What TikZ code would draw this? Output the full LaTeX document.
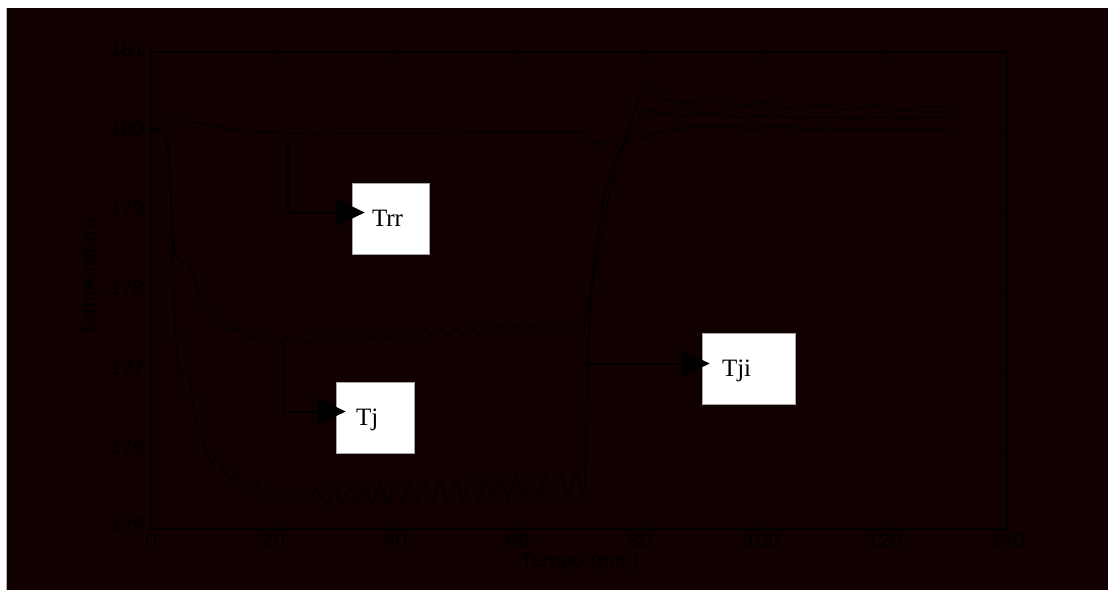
\documentclass[tikz,border=0pt]{standalone}
\usepackage{fontspec}
\setmainfont{Liberation Serif}
\newfontfamily\axfont{Liberation Sans}
\usetikzlibrary{arrows.meta}
\definecolor{bgdark}{RGB}{17,0,0}
\begin{document}
\begin{tikzpicture}[x=1pt,y=-1pt,
  curve/.style={black, line width=1.1pt, line join=round},
  axisbox/.style={black, line width=1.4pt},
  tickmark/.style={black, line width=1pt},
  ticklbl/.style={font=\axfont\fontsize{19}{22}\selectfont, text=black, inner sep=0pt},
  labelbox/.style={draw=gray!70, line width=0.8pt, fill=white, font=\fontsize{25}{30}\selectfont,
    text height=16.5pt, text depth=0pt, align=left, inner xsep=20pt, inner ysep=0pt, minimum height=71pt},
  conn/.style={black, line width=2pt, -{Triangle[length=28pt,width=27pt]}}]

\useasboundingbox (0,0) rectangle (1108,590);
\fill[white] (0,0) rectangle (1108,590);
\fill[bgdark] (6,8) rectangle (1108,590);
\draw[gray!60, line width=0.8pt] (6.4,8) -- (6.4,590);

% axes box and ticks
\draw[axisbox] (151,52) rectangle (1007,529);
\foreach \k in {0,...,7} {
  \draw[tickmark] ({151+122.29*\k},529) -- ++(0,-7);
  \draw[tickmark] ({151+122.29*\k},52) -- ++(0,7);
}
\foreach \k in {0,...,6} {
  \draw[tickmark] (151,{529-79.5*\k}) -- ++(7,0);
  \draw[tickmark] (1007,{529-79.5*\k}) -- ++(-7,0);
}
\foreach \k/\v in {0/0,1/20,2/40,3/60,4/80,5/100,6/120,7/140}
  \node[ticklbl] (xl\k) at ({151+122.29*\k},541) {\scalebox{1.12}[1]{\v}};
\foreach \k/\v in {0/175,1/176,2/177,3/178,4/179,5/180,6/181}
  \node[ticklbl, anchor=east] (yl\k) at (145,{526.5-79.5*\k}) {\scalebox{1.12}[1]{\v}};
\node[ticklbl, rotate=90] (ytitle) at (90,277) {\scalebox{1.12}[1]{Temperatura}};
\node[ticklbl] (xtitle) at (580,562) {\scalebox{1.12}[1]{Tempo (min)}};

% Trr curve
\draw[curve] (153,133) -- (158,129) -- (162,127) -- (167,123) -- (172,117) -- (177,116) -- (182,118)
  -- (190,122) -- (200,123) -- (217,127) -- (233,129) -- (250,131) -- (287,133) -- (317,134)
  -- (367,133) -- (433,133) -- (500,132) -- (557,132) -- (582,132) -- (587,137) -- (591.6,142)
  -- (599,144) -- (624,144) -- (633.7,142) -- (645,137) -- (658.6,132) -- (672,129) -- (699,127)
  -- (737,127) -- (752,129) -- (767.6,127) -- (783,127) -- (813.6,129) -- (832.7,128) -- (852,130)
  -- (945.6,130);

% Tj curve
\draw[curve] (153,127) -- (160,131) -- (165,133) -- (167,140) -- (169,165) -- (171,200) -- (173,235)
  -- (175,253) -- (178,261) -- (182,264) -- (186,261) -- (189,264) -- (192,272) -- (195,283)
  -- (199,293) -- (204,302) -- (209,310) -- (214,316) -- (219,320) -- (224,325) -- (229,329)
  -- (233,330) -- (236,327) -- (241,331) -- (247,336) -- (253,339) -- (258,337) -- (262,334)
  -- (268,339) -- (275,342) -- (283,343) -- (286,337) -- (290,338) -- (298,341) -- (306,342)
  -- (313,342)
  \foreach \i in {1,...,36} { -- ({313+7.53*\i},{342-0.331*\i-8*mod(\i,2)}) }
  -- (586,318) -- (589,305) -- (592,290) -- (595,270) -- (599,245) -- (605,217) -- (610,190)
  -- (614.6,170) -- (619,156) -- (624,145) -- (629,135) -- (633.7,127) -- (637,121) -- (641,115)
  -- (644,112) -- (647,110) -- (651,110) -- (656.7,112) -- (664,113) -- (672,113) -- (680,115)
  -- (687,116) -- (692,114) -- (696.8,113) -- (705,113) -- (714,113) -- (725.5,115) -- (737,117)
  -- (746,117) -- (756,116) -- (765,116) -- (775,115) -- (785,117) -- (794,118) -- (804,118)
  -- (813.6,117) -- (832.7,117) -- (844,118) -- (855,118) -- (863,118) -- (878.6,117) -- (894,118)
  -- (909,119) -- (928,117) -- (945.6,117);

% Tji curve
\draw[curve] (153,128) -- (160,131) -- (165,133) -- (168,145) -- (170,180) -- (172,230) -- (174,290)
  -- (176,340) -- (178,372) -- (180,377) -- (183,372) -- (187,364) -- (190,378) -- (193,405)
  -- (197,428) -- (203,440) -- (208,458) -- (213,463) -- (216,457) -- (219,452) -- (223,468)
  -- (228,481) -- (232,478) -- (235,471) -- (239,483) -- (245,492) -- (250,496) -- (254,495)
  -- (257,483) -- (262,490) -- (268,497) -- (275,502) -- (280,503) -- (283,500) -- (285,490)
  -- (290,497) -- (298,500) -- (305,502) -- (312,500) -- (316,488) -- (320,495) -- (327,505)
  \foreach \i in {1,...,34} { -- ({327+7.55*\i},{505-0.2265*\i-mod(\i,2)*(18+0.2265*\i)}) }
  -- (585,470) -- (586,430) -- (588,365) -- (590,315) -- (592,280) -- (595,252) -- (599,228)
  -- (603,205) -- (607,186) -- (611,170) -- (617,156) -- (624,144) -- (630,125) -- (634,112)
  -- (637.5,100) -- (641,93) -- (644,89) -- (647,87) -- (650,88) -- (654,92) -- (658.6,97)
  -- (664,100) -- (670,100) -- (676,102) -- (683.5,104) -- (690,104) -- (695,103) -- (700,101)
  -- (706,98) -- (712,100) -- (718,102) -- (726,105) -- (735,108) -- (744.7,105) -- (755,104)
  -- (767.6,103) -- (779,107) -- (790,108) -- (798,109) -- (806,107) -- (813.6,105) -- (829,105)
  -- (840,109) -- (852,110) -- (863,107) -- (872,106) -- (882.5,106) -- (897.8,110) -- (909,112)
  -- (920.7,107) -- (945.6,107);

% label boxes
\node[labelbox, text width=37pt] (trr) at (390.5,218.5) {Trr};
\node[labelbox, text width=38pt] (tj) at (375,417.5) {Tj};
\node[labelbox, text width=53pt] (tji) at (748.5,368.5) {Tji};

% connectors
\coordinate (trrsrc) at (288,141);
\coordinate (tjsrc) at (284,342);
\coordinate (tjisrc) at (586,363.5);
\draw[conn] (trrsrc) |- ([xshift=13pt,yshift=6pt]trr.west);
\draw[conn] (tjsrc) |- ([xshift=10pt,yshift=6pt]tj.west);
\draw[conn] (tjisrc) -- ([xshift=8pt,yshift=5pt]tji.west);
\end{tikzpicture}
\end{document}
